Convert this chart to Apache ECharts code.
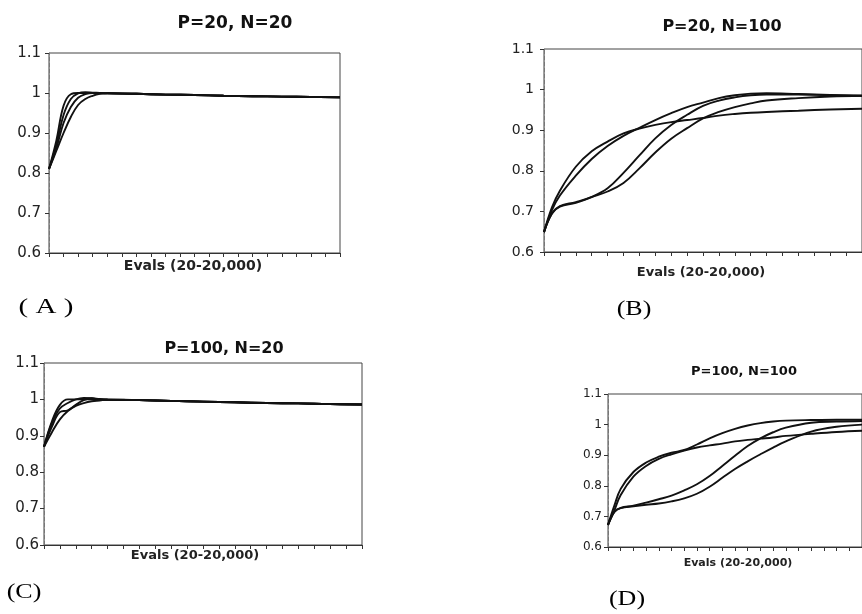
<!DOCTYPE html>
<html><head><meta charset="utf-8">
<script src="https://cdn.jsdelivr.net/npm/echarts@6/dist/echarts.min.js"></script>
<style>html,body{margin:0;padding:0;background:#fff}#c{width:862px;height:614px}</style>
</head><body><div id="c"></div>
<script>
// ---- data ----
const panelTitles = ['P=20, N=20', 'P=20, N=100', 'P=100, N=20', 'P=100, N=100'];
const panelLetters = ['( A )', '(B)', '(C)', '(D)'];
const xAxisName = 'Evals (20-20,000)';
const yTicks = [0.6, 0.7, 0.8, 0.9, 1.0, 1.1];

const evalsAC = [0, 500, 1000, 1500, 2000, 2500, 3000, 3500, 4000, 6000, 8000, 10000, 12000, 14000, 16000, 18000, 20000];
const a1 = [0.81, 0.88, 0.968, 0.997, 1.0, 1.0, 1.0, 0.999, 0.999, 0.998, 0.996, 0.995, 0.993, 0.992, 0.991, 0.990, 0.989];
const a2 = [0.81, 0.87, 0.945, 0.985, 0.999, 1.002, 1.001, 1.0, 0.999, 0.998, 0.996, 0.995, 0.993, 0.992, 0.991, 0.990, 0.989];
const a3 = [0.81, 0.862, 0.925, 0.965, 0.988, 0.997, 1.0, 1.0, 0.999, 0.998, 0.996, 0.995, 0.993, 0.992, 0.991, 0.990, 0.989];
const a4 = [0.81, 0.855, 0.90, 0.94, 0.97, 0.985, 0.993, 0.998, 1.0, 0.998, 0.996, 0.995, 0.993, 0.992, 0.991, 0.990, 0.989];

const c1 = [0.87, 0.94, 0.985, 1.0, 1.0, 1.0, 1.0, 0.999, 0.999, 0.998, 0.996, 0.994, 0.992, 0.990, 0.989, 0.987, 0.986];
const c2 = [0.87, 0.935, 0.975, 0.99, 1.0, 1.004, 1.003, 1.0, 0.999, 0.998, 0.996, 0.994, 0.992, 0.990, 0.989, 0.987, 0.986];
const c3 = [0.87, 0.925, 0.965, 0.97, 0.985, 0.998, 1.003, 1.001, 1.0, 0.998, 0.996, 0.994, 0.992, 0.990, 0.989, 0.987, 0.986];
const c4 = [0.87, 0.91, 0.945, 0.968, 0.982, 0.99, 0.995, 0.997, 0.999, 0.998, 0.996, 0.994, 0.992, 0.990, 0.989, 0.987, 0.986];

const evalsBD = [0, 500, 1000, 2000, 3000, 4000, 5000, 6000, 7000, 8000, 9000, 10000, 11000, 12000, 13000, 14000, 16000, 18000, 20000];
const b1 = [0.649, 0.71, 0.751, 0.81, 0.848, 0.872, 0.892, 0.904, 0.913, 0.92, 0.925, 0.93, 0.936, 0.94, 0.943, 0.945, 0.948, 0.951, 0.953];
const b2 = [0.649, 0.703, 0.739, 0.788, 0.829, 0.861, 0.886, 0.906, 0.925, 0.942, 0.957, 0.968, 0.979, 0.986, 0.99, 0.991, 0.989, 0.987, 0.985];
const b3 = [0.649, 0.695, 0.713, 0.723, 0.736, 0.757, 0.795, 0.838, 0.88, 0.913, 0.938, 0.96, 0.973, 0.981, 0.986, 0.988, 0.988, 0.986, 0.985];
const b4 = [0.649, 0.695, 0.712, 0.721, 0.735, 0.749, 0.770, 0.806, 0.845, 0.879, 0.905, 0.929, 0.945, 0.957, 0.966, 0.973, 0.979, 0.983, 0.985];

const d1 = [0.672, 0.735, 0.79, 0.845, 0.876, 0.895, 0.908, 0.917, 0.935, 0.955, 0.972, 0.986, 0.997, 1.005, 1.010, 1.013, 1.015, 1.016, 1.016];
const d2 = [0.672, 0.72, 0.77, 0.83, 0.865, 0.888, 0.903, 0.915, 0.925, 0.932, 0.938, 0.945, 0.95, 0.954, 0.958, 0.963, 0.97, 0.976, 0.98];
const d3 = [0.672, 0.715, 0.728, 0.735, 0.745, 0.756, 0.768, 0.785, 0.805, 0.832, 0.865, 0.898, 0.93, 0.955, 0.975, 0.99, 1.006, 1.01, 1.012];
const d4 = [0.672, 0.715, 0.727, 0.733, 0.738, 0.742, 0.749, 0.759, 0.774, 0.797, 0.826, 0.855, 0.880, 0.903, 0.925, 0.945, 0.977, 0.993, 1.0];

// ---- layout / style ----
const panels = [
  {grid: {left: 49, top: 53, width: 291, height: 200}, x: evalsAC, ys: [a1, a2, a3, a4],
   title: {x: 235, y: 24, size: 17}, xname: {x: 193, y: 266, size: 14}, tick: {size: 15, margin: 8},
   letter: {x: 46, y: 308, sx: 1.45}},
  {grid: {left: 544, top: 49, width: 334, height: 203}, x: evalsBD, ys: [b1, b2, b3, b4],
   title: {x: 722, y: 27, size: 16}, xname: {x: 701, y: 273, size: 13}, tick: {size: 14, margin: 10},
   letter: {x: 634, y: 310, sx: 1.3}},
  {grid: {left: 44, top: 363, width: 318, height: 182}, x: evalsAC, ys: [c1, c2, c3, c4],
   title: {x: 224, y: 349, size: 16}, xname: {x: 195, y: 556, size: 13}, tick: {size: 15, margin: 5},
   letter: {x: 24, y: 593, sx: 1.3}},
  {grid: {left: 608, top: 394, width: 268, height: 153}, x: evalsBD, ys: [d1, d2, d3, d4],
   title: {x: 744, y: 372, size: 13}, xname: {x: 738, y: 563, size: 11}, tick: {size: 12, margin: 6},
   letter: {x: 627, y: 600, sx: 1.3}}
];

const FONT = "'DejaVu Sans', sans-serif";
const option = {
  animation: false,
  backgroundColor: '#fff',
  grid: [], xAxis: [], yAxis: [], series: [], graphic: []
};

panels.forEach((p, i) => {
  option.grid.push(Object.assign({show: true, borderColor: '#444', borderWidth: 1, containLabel: false}, p.grid));
  option.xAxis.push({
    type: 'value', gridIndex: i, min: 0, max: 20000, interval: 1000,
    axisLine: {show: true, lineStyle: {color: '#333', width: 1}},
    axisTick: {show: true, length: 4, inside: false, lineStyle: {color: '#333'}},
    axisLabel: {show: false}, splitLine: {show: false}
  });
  option.yAxis.push({
    type: 'value', gridIndex: i, min: yTicks[0], max: yTicks[yTicks.length - 1], interval: 0.1,
    axisLine: {show: true, lineStyle: {color: '#777', width: 1, type: [4, 2]}},
    axisTick: {show: true, length: 4, lineStyle: {color: '#333'}},
    axisLabel: {show: true, fontFamily: FONT, fontSize: p.tick.size, color: '#222', margin: p.tick.margin,
      formatter: v => String(Number(v.toFixed(1)))},
    splitLine: {show: false}
  });
  p.ys.forEach((ys, k) => {
    option.series.push({
      type: 'line', xAxisIndex: i, yAxisIndex: i, smooth: 0.4, symbol: 'none',
      lineStyle: {color: '#111', width: 1.9},
      data: p.x.map((x, j) => [x, ys[j]])
    });
  });
  option.graphic.push({type: 'text', x: p.title.x, y: p.title.y,
    style: {text: panelTitles[i], font: `bold ${p.title.size}px ${FONT}`, fill: '#111', align: 'center', verticalAlign: 'middle'}});
  option.graphic.push({type: 'text', x: p.xname.x, y: p.xname.y,
    style: {text: xAxisName, font: `bold ${p.xname.size}px ${FONT}`, fill: '#222', align: 'center', verticalAlign: 'middle'}});
  option.graphic.push({type: 'text', x: p.letter.x, y: p.letter.y, scaleX: p.letter.sx,
    style: {text: panelLetters[i], font: "20px 'Liberation Serif', serif", fill: '#000', align: 'center', verticalAlign: 'middle'}});
});

const chart = echarts.init(document.getElementById('c'));
chart.setOption(option);
</script>
</body></html>
